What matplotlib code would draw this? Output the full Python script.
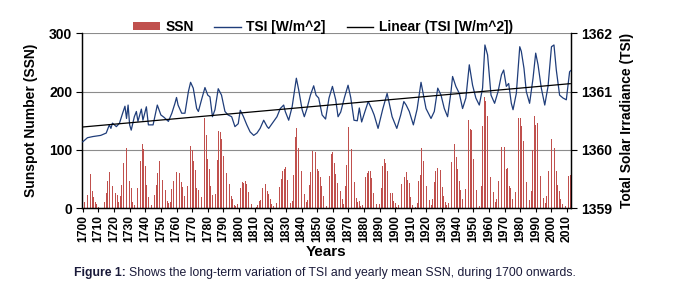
import numpy as np
import matplotlib
matplotlib.use("Agg")
import matplotlib.pyplot as plt
from matplotlib.patches import Patch
from matplotlib.lines import Line2D
from matplotlib import font_manager

plt.rcParams['font.family'] = ['Liberation Sans', 'DejaVu Sans']

# ---- data ----
years = list(range(1700, 2013))
ssn = [5, 11, 16, 23, 36, 58, 29, 20, 10, 8, 3, 0, 0, 2, 11, 27, 47, 63, 60, 39,
       28, 26, 22, 11, 21, 40, 78, 122, 103, 73, 47, 35, 11, 5, 16, 34, 70, 81, 111, 101,
       73, 40, 20, 16, 5, 11, 22, 40, 60, 80.9, 83.4, 47.7, 47.8, 30.7, 12.2, 9.6, 10.2, 32.4, 47.6, 54.0,
       62.9, 85.9, 61.2, 45.1, 36.4, 20.9, 11.4, 37.8, 69.8, 106.1, 100.8, 81.6, 66.5, 34.8, 30.6, 7.0, 19.8, 92.5, 154.4, 125.9,
       84.8, 68.1, 38.5, 22.8, 10.2, 24.1, 82.9, 132.0, 130.9, 118.1, 89.9, 66.6, 60.0, 46.9, 41.0, 21.3, 16.0, 6.4, 4.1, 6.8,
       14.5, 34.0, 45.0, 43.1, 47.5, 42.2, 28.1, 10.1, 8.1, 2.5, 0.0, 1.4, 5.0, 12.2, 13.9, 35.4, 45.8, 41.1, 30.1, 23.9,
       15.6, 6.6, 4.0, 1.8, 8.5, 16.6, 36.3, 49.6, 64.2, 67.0, 70.9, 47.8, 27.5, 8.5, 13.2, 56.9, 121.5, 138.3, 103.2, 85.7,
       64.6, 36.7, 24.2, 10.7, 15.0, 40.1, 61.5, 98.5, 124.7, 96.3, 66.6, 64.5, 54.1, 39.0, 20.6, 6.7, 4.3, 22.7, 54.8, 93.8,
       95.8, 77.2, 59.1, 44.0, 47.0, 30.5, 16.3, 7.3, 37.6, 74.0, 139.0, 111.2, 101.6, 66.2, 44.7, 17.0, 11.3, 12.4, 3.4, 6.0,
       32.3, 54.3, 59.7, 63.7, 63.5, 52.2, 25.4, 13.1, 6.8, 6.3, 7.1, 35.6, 73.0, 85.1, 78.0, 64.0, 41.8, 26.2, 26.7, 12.1,
       9.5, 2.7, 5.0, 24.4, 42.0, 63.5, 53.8, 62.0, 48.5, 43.9, 18.6, 5.7, 3.6, 1.4, 9.6, 47.4, 57.1, 103.9, 80.6, 63.6,
       37.6, 26.1, 14.2, 5.8, 16.7, 44.3, 63.9, 69.0, 77.8, 64.9, 35.7, 21.2, 11.1, 5.7, 8.7, 36.1, 79.7, 114.4, 109.6, 88.8,
       67.8, 47.5, 30.6, 16.3, 9.6, 33.2, 92.6, 151.6, 136.3, 134.7, 83.9, 69.4, 31.5, 13.9, 4.4, 38.0, 141.7, 190.2, 184.8, 159.0,
       112.3, 53.9, 37.5, 27.9, 10.2, 15.1, 47.0, 93.8, 105.9, 105.5, 104.5, 66.6, 68.9, 38.0, 34.5, 15.5, 12.6, 27.5, 92.5, 155.4,
       154.6, 140.4, 115.9, 66.6, 45.9, 17.9, 13.4, 29.4, 100.2, 157.6, 142.6, 145.7, 94.3, 54.6, 29.9, 17.5, 8.6, 21.5, 64.3, 93.3,
       119.6, 111.0, 104.0, 63.7, 40.4, 29.8, 15.2, 7.5, 2.9, 3.1, 16.5, 55.7, 57.6]

tsi_years = [1700, 1703, 1706.5, 1711.5, 1715, 1717, 1718, 1719, 1721.5, 1723.5,
             1725.5, 1727, 1728, 1729, 1730, 1731, 1733, 1734.3, 1735.3, 1737.5,
             1738.5, 1740.7, 1742, 1745, 1747.7, 1750, 1752, 1754.8, 1757, 1759,
             1760, 1761, 1763.3, 1765.4, 1767.6, 1769, 1770.7, 1772.9, 1774, 1776,
             1778.2, 1780, 1781.4, 1783, 1784.6, 1786.7, 1788.8, 1791, 1793, 1795.3,
             1797.4, 1799.5, 1800.8, 1802.7, 1805, 1807.1, 1809.4, 1811.5, 1813.5, 1815.8,
             1818, 1819, 1822.2, 1824.3, 1826.4, 1828.6, 1829.6, 1831.8, 1834, 1835.4,
             1836.7, 1838.2, 1840.4, 1841.8, 1843.5, 1845.7, 1847.8, 1849.3, 1851, 1853.2,
             1855.4, 1857.6, 1859.8, 1861.9, 1863.4, 1865.1, 1867.5, 1869.8, 1871.5, 1873.6,
             1875.7, 1877, 1878.5, 1880.5, 1882.7, 1885, 1886.5, 1889, 1892, 1894.8,
             1898, 1901, 1903.5, 1905.5, 1907, 1909, 1911.6, 1914, 1916.5, 1919.7,
             1922.9, 1925, 1927.2, 1929.3, 1931.4, 1933.5, 1935.7, 1936.7, 1938.8, 1941,
             1943.1, 1945.2, 1947.4, 1949.5, 1951.6, 1953.8, 1955.9, 1957.4, 1959.1, 1961.3,
             1963.6, 1965.8, 1968, 1969.4, 1971.1, 1972.6, 1974.3, 1975.4, 1977.5, 1979.7,
             1980.7, 1982.4, 1983.9, 1986, 1988.2, 1989.9, 1991.4, 1993.5, 1995.7, 1997.8,
             2000, 2001.6, 2003.1, 2005.2, 2007.4, 2009.5, 2010.6, 2011.6, 2012.3]
tsi_vals = [1360.14, 1360.21, 1360.23, 1360.25, 1360.29, 1360.43, 1360.37, 1360.46, 1360.40, 1360.46,
            1360.63, 1360.75, 1360.54, 1360.77, 1360.43, 1360.34, 1360.57, 1360.66, 1360.49, 1360.70,
            1360.51, 1360.74, 1360.43, 1360.43, 1360.77, 1360.60, 1360.56, 1360.49, 1360.63, 1360.80,
            1360.90, 1360.77, 1360.63, 1360.63, 1361.00, 1361.16, 1361.06, 1360.71, 1360.66, 1360.86,
            1361.07, 1360.94, 1360.91, 1360.57, 1360.69, 1361.05, 1360.94, 1360.66, 1360.60, 1360.57,
            1360.40, 1360.45, 1360.68, 1360.58, 1360.43, 1360.31, 1360.25, 1360.29, 1360.37, 1360.51,
            1360.40, 1360.37, 1360.49, 1360.57, 1360.71, 1360.77, 1360.66, 1360.51, 1360.74, 1361.00,
            1361.23, 1361.03, 1360.69, 1360.57, 1360.71, 1360.94, 1361.10, 1360.94, 1360.89, 1360.60,
            1360.53, 1360.89, 1361.09, 1360.86, 1360.57, 1360.65, 1360.90, 1361.11, 1360.90, 1360.51,
            1360.50, 1360.72, 1360.48, 1360.65, 1360.83, 1360.70, 1360.60, 1360.37, 1360.70, 1360.97,
            1360.57, 1360.37, 1360.60, 1360.83, 1360.77, 1360.66, 1360.43, 1360.70, 1361.16, 1360.71,
            1360.54, 1360.66, 1361.06, 1360.94, 1360.71, 1360.57, 1361.00, 1361.26, 1361.09, 1360.97,
            1360.71, 1360.89, 1361.46, 1361.11, 1360.89, 1360.77, 1361.06, 1361.80, 1361.63, 1360.94,
            1360.80, 1361.00, 1361.29, 1361.37, 1361.09, 1361.14, 1360.80, 1360.69, 1360.97, 1361.77,
            1361.69, 1361.40, 1361.00, 1360.80, 1361.23, 1361.66, 1361.46, 1361.06, 1360.77, 1361.09,
            1361.77, 1361.80, 1361.37, 1360.94, 1360.89, 1360.86, 1361.11, 1361.34, 1361.36]

tick_years = list(range(1700, 2011, 10))

# ---- figure ----
fig = plt.figure(figsize=(6.73, 2.95), dpi=100)
ax = fig.add_axes([82/673, 1-208.3/295, (571-82)/673, (208.3-33.3)/295])
ax2 = ax.twinx()

ax.bar(years, ssn, width=0.5, color='#C0504D', linewidth=0, zorder=2)
ax.set_ylim(0, 300)
ax.set_xlim(1699.5, 2012.5)
ax.set_yticks([0, 100, 200, 300])
ax.yaxis.grid(True, color='#8c8c8c', linewidth=0.8, zorder=0)
ax.set_axisbelow(True)
ax.set_xticks(tick_years)
ax.set_xticklabels([str(y) for y in tick_years], rotation=90, fontweight='bold', fontsize=8.7)
ax.tick_params(axis='x', length=3, width=0.8, pad=2)
ax.tick_params(axis='y', length=4, width=0.8, labelsize=10, direction='out', pad=3)
for lab in ax.get_yticklabels():
    lab.set_fontweight('bold')
ax.spines['top'].set_visible(False)
ax.set_ylabel('Sunspot Number (SSN)', fontweight='bold', fontsize=10, labelpad=8)
ax.set_xlabel('Years', fontweight='bold', fontsize=11, labelpad=2)

ax2.plot(tsi_years, tsi_vals, color='#1F3D7A', linewidth=0.9, zorder=3)
# linear trend (weighted by sample spacing so every year counts equally)
w = np.gradient(np.array(tsi_years, dtype=float))
coef = np.polyfit(tsi_years, tsi_vals, 1, w=np.sqrt(w))
xt = np.array([years[0], years[-1]])
ax2.plot(xt, np.polyval(coef, xt), color='black', linewidth=0.9, zorder=4)
ax2.set_ylim(1359, 1362)
ax2.set_yticks([1359, 1360, 1361, 1362])
ax2.tick_params(axis='y', length=4, width=0.8, labelsize=10, pad=3)
for lab in ax2.get_yticklabels():
    lab.set_fontweight('bold')
ax2.spines['top'].set_visible(False)
ax2.set_ylabel('Total Solar Irradiance (TSI)', fontweight='bold', fontsize=10, labelpad=6)

for a in (ax, ax2):
    for s in ('left', 'right', 'bottom'):
        a.spines[s].set_linewidth(0.9)

handles = [Patch(facecolor='#C0504D', edgecolor='none'),
           Line2D([], [], color='#1F3D7A', linewidth=1),
           Line2D([], [], color='black', linewidth=1)]
labels = ['SSN', 'TSI [W/m^2]', 'Linear (TSI [W/m^2])']
fig.legend(handles, labels, ncol=3, frameon=False, loc='center',
           bbox_to_anchor=(323/673, 1-27/295), prop={'weight': 'bold', 'size': 10},
           handlelength=1.9, handleheight=0.45, columnspacing=1.5, handletextpad=0.4)

# caption
names = {f.name for f in font_manager.fontManager.ttflist}
cap_family = ['Liberation Sans Narrow', 'Liberation Sans'] if 'Liberation Sans Narrow' in names else ['Liberation Sans']
cap_size = 9.3 if 'Liberation Sans Narrow' in names else 8.8
fig.canvas.draw()
r = fig.canvas.get_renderer()
t1 = fig.text(74/673, 1-273/295, 'Figure 1:', fontweight='bold', fontsize=cap_size,
              family=cap_family, color='#1a1a3a', va='center', ha='left')
bb = t1.get_window_extent(renderer=r)
fig.text(bb.x1/673 + 3/673, 1-273/295,
         'Shows the long-term variation of TSI and yearly mean SSN, during 1700 onwards.',
         fontsize=cap_size, family=cap_family, color='#1a1a3a', va='center', ha='left')

fig.savefig('out.png', dpi=100)
